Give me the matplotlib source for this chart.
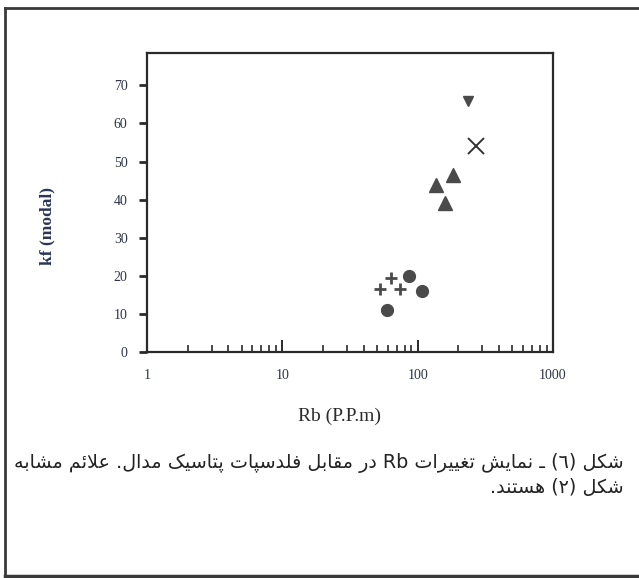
import matplotlib
matplotlib.use("Agg")
import matplotlib.pyplot as plt
from matplotlib.lines import Line2D

# values (Rb ppm vs modal K-feldspar %)
circle_rb = [59, 87, 107]
circle_kf = [11, 20, 16]
plus_rb = [53, 63, 74]
plus_kf = [16.5, 19.5, 16.5]
tri_rb = [136, 158, 183]
tri_kf = [43.8, 39, 46.5]
down_rb = [237]
down_kf = [66]
x_rb = [268]
x_kf = [54]

yticks = [0, 10, 20, 30, 40, 50, 60, 70]
xticks = [1, 10, 100, 1000]
xticklabels = ["1", "10", "100", "1000"]

caption_lines = [
    "شکل (٦) ـ نمایش تغییرات Rb در مقابل فلدسپات پتاسیک مدال. علائم مشابه",
    "شکل (٢) هستند.",
]

# isolated, final, initial, medial presentation forms (no bidi/shaping in mpl 3.10)
FORMS = {
    "ا": ("\uFE8D", "\uFE8E", None, None),
    "ب": ("\uFE8F", "\uFE90", "\uFE91", "\uFE92"),
    "پ": ("\uFB56", "\uFB57", "\uFB58", "\uFB59"),
    "ت": ("\uFE95", "\uFE96", "\uFE97", "\uFE98"),
    "د": ("\uFEA9", "\uFEAA", None, None),
    "ر": ("\uFEAD", "\uFEAE", None, None),
    "س": ("\uFEB1", "\uFEB2", "\uFEB3", "\uFEB4"),
    "ش": ("\uFEB5", "\uFEB6", "\uFEB7", "\uFEB8"),
    "ع": ("\uFEC9", "\uFECA", "\uFECB", "\uFECC"),
    "غ": ("\uFECD", "\uFECE", "\uFECF", "\uFED0"),
    "ف": ("\uFED1", "\uFED2", "\uFED3", "\uFED4"),
    "ق": ("\uFED5", "\uFED6", "\uFED7", "\uFED8"),
    "ک": ("\uFB8E", "\uFB8F", "\uFB90", "\uFB91"),
    "ل": ("\uFEDD", "\uFEDE", "\uFEDF", "\uFEE0"),
    "م": ("\uFEE1", "\uFEE2", "\uFEE3", "\uFEE4"),
    "ن": ("\uFEE5", "\uFEE6", "\uFEE7", "\uFEE8"),
    "ه": ("\uFEE9", "\uFEEA", "\uFEEB", "\uFEEC"),
    "ی": ("\uFBFC", "\uFBFD", "\uFBFE", "\uFBFF"),
    "ئ": ("\uFE89", "\uFE8A", "\uFE8B", "\uFE8C"),
}


def shape_word(w):
    out = []
    i = 0
    while i < len(w):
        ch = w[i]
        prev = w[i - 1] if i > 0 else ""
        join_prev = prev in FORMS and FORMS[prev][2] is not None
        if ch == "ل" and i + 1 < len(w) and w[i + 1] == "ا":
            out.append("\uFEFC" if join_prev else "\uFEFB")
            i += 2
            continue
        if ch not in FORMS:
            out.append(ch)
            i += 1
            continue
        nxt = w[i + 1] if i + 1 < len(w) else ""
        join_next = nxt in FORMS and FORMS[ch][2] is not None
        iso, fin, ini, med = FORMS[ch]
        if join_prev and join_next:
            out.append(med)
        elif join_prev:
            out.append(fin)
        elif join_next:
            out.append(ini)
        else:
            out.append(iso)
        i += 1
    return "".join(reversed(out))


def visual(line):
    toks = []
    for t in line.split(" "):
        toks.append(shape_word(t) if any(c in FORMS for c in t) else t)
    return " ".join(reversed(toks))


W, H = 639, 578
fig = plt.figure(figsize=(W / 100, H / 100), dpi=100)
ax = fig.add_axes([147 / W, 1 - 352 / H, (553 - 147) / W, (352 - 53) / H])

mk = "#4a4a4a"
ax.plot(circle_rb, circle_kf, "o", ms=8.5, color=mk, mec=mk)
ax.plot(plus_rb, plus_kf, "+", ms=9, mew=2.0, color=mk)
ax.plot(tri_rb, tri_kf, "^", ms=9.5, color=mk, mec=mk)
ax.plot(down_rb, down_kf, "v", ms=7, color=mk, mec=mk)
ax.plot(x_rb, x_kf, "x", ms=11, mew=1.4, color="#333333")

ax.set_xscale("log")
ax.set_xlim(1, 1000)
ax.set_ylim(0, 78.5)
ax.set_yticks(yticks)
ax.set_xticks(xticks)
ax.set_xticklabels(xticklabels)

tick_col = "#2e3347"
for s in ax.spines.values():
    s.set_linewidth(1.6)
    s.set_color("#2a2a2a")
ax.tick_params(axis="y", direction="out", length=6, width=2, colors="#2a2a2a",
               labelcolor=tick_col, labelsize=10, pad=8)
ax.tick_params(axis="x", which="major", direction="in", length=9, width=1.4,
               colors="#2a2a2a", labelcolor=tick_col, labelsize=10, pad=12)
ax.tick_params(axis="x", which="minor", direction="in", length=5, width=1.2, colors="#2a2a2a")
for lab in ax.get_xticklabels() + ax.get_yticklabels():
    lab.set_family("Liberation Serif")

ax.set_ylabel("kf (modal)", family="Liberation Serif", fontweight="bold",
              fontsize=12.5, color="#2b3558")
ax.yaxis.set_label_coords(-0.225, 0.42)
ax.set_xlabel("Rb (P.P.m)", family="Liberation Serif", fontsize=14, color="#2a2a2a")
ax.xaxis.set_label_coords(0.475, -0.185)

# page frame of the scan (left, top, bottom edges)
fc = "#3a3a3a"
fig.add_artist(Line2D([5 / W, 5 / W], [1 - 8 / H, 1 - 577 / H], color=fc, lw=2))
fig.add_artist(Line2D([5 / W, 1], [1 - 8 / H, 1 - 8 / H], color=fc, lw=2))
fig.add_artist(Line2D([5 / W, 1], [1 - 576 / H, 1 - 576 / H], color=fc, lw=2.5))

fig.text(624 / W, 1 - 463 / H, visual(caption_lines[0]), ha="right", va="center",
         family="DejaVu Sans", fontsize=13.8, color="#222222")
fig.text(624 / W, 1 - 488 / H, visual(caption_lines[1]), ha="right", va="center",
         family="DejaVu Sans", fontsize=13.8, color="#222222")

fig.savefig("out.png", dpi=100)
